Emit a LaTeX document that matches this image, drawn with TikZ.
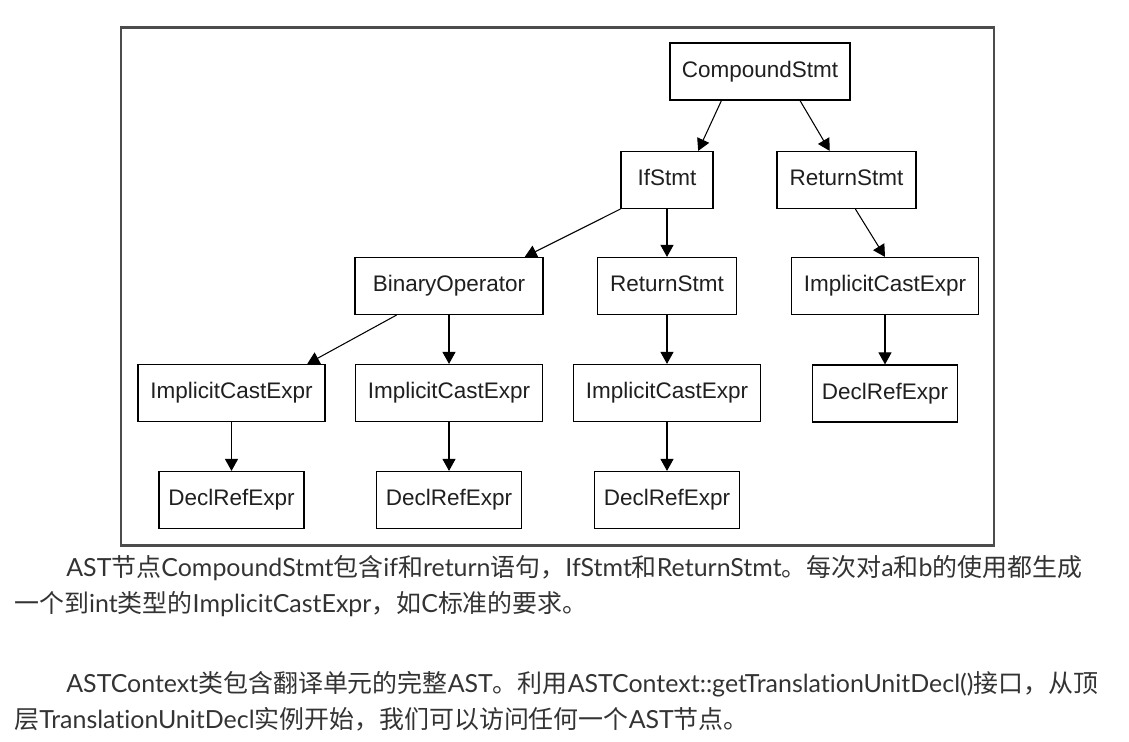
\documentclass[tikz,border=0pt]{standalone}
\usepackage{fontspec}
\usepackage{tikz}
\usetikzlibrary{arrows.meta}
\setmainfont{Lato}[Ligatures=NoCommon]
\newfontfamily\boxfont{Liberation Sans}
\newfontfamily\cjk{Noto Sans CJK SC}
\newcommand{\zh}[1]{{\cjk #1}}

\begin{document}
\begin{tikzpicture}[x=0.02cm,y=-0.02cm,
	astbox/.style={draw,line width=0.65pt,rectangle,minimum height=1.14cm,inner xsep=0pt,
		text height=9.4pt,text depth=2.8pt,
		font=\boxfont\fontsize{12.8}{15}\selectfont,text=black!88},
	cmpd/.style={astbox,minimum width=3.6cm},
	ifst/.style={astbox,minimum width=1.84cm},
	rets/.style={astbox,minimum width=2.78cm},
	binop/.style={astbox,minimum width=3.76cm},
	impl/.style={astbox,minimum width=3.74cm},
	decl/.style={astbox,minimum width=2.9cm},
	edge/.style={draw,line width=0.6pt,-{Triangle[length=0.24cm,width=0.26cm]}},
	para/.style={anchor=base west,inner sep=0pt,text=black!80,font=\fontsize{14.2}{17}\selectfont}]
			\useasboundingbox (0,0) rectangle (1129,742);
			\draw[line width=1.5pt,black!70] (121,27.5) rectangle (994,545.5);

			\node[cmpd] (cs) at (760,71.5) {CompoundStmt};
			\node[ifst] (if) at (667,180) {IfStmt};
			\node[rets] (rt1) at (846.5,180) {ReturnStmt};

			\node[binop] (bo) at (449,286) {BinaryOperator};
			\node[rets] (rt2) at (667,286) {ReturnStmt};
			\node[impl] (ic4) at (885,286) {ImplicitCastExpr};

			\node[impl] (ic1) at (231.5,393) {ImplicitCastExpr};
			\node[impl] (ic2) at (449,393) {ImplicitCastExpr};
			\node[impl] (ic3) at (667,393) {ImplicitCastExpr};
			\node[decl] (dr4) at (885,393.5) {DeclRefExpr};

			\node[decl] (dr1) at (231.5,500) {DeclRefExpr};
			\node[decl] (dr2) at (449,500) {DeclRefExpr};
			\node[decl] (dr3) at (667,500) {DeclRefExpr};

			\path[edge] (cs.217) -- (if.43);
			\path[edge] (cs.324) -- (rt1.120);
			\path[edge] (if.south west) -- (bo.21);
			\path[edge] (if.south) -- (rt2.north);
			\path[edge] (rt1.287) -- (ic4.north);
			\path[edge] (bo.209) -- (ic1.21);
			\path[edge] (bo.south) -- (ic2.north);
			\path[edge] (rt2.south) -- (ic3.north);
			\path[edge] (ic1.south) -- (dr1.north);
			\path[edge] (ic2.south) -- (dr2.north);
			\path[edge] (ic3.south) -- (dr3.north);
			\path[edge] (ic4.south) -- (dr4.north);

			% caption text
			\node[para] (l1) at (66,577) {AST\zh{节点}CompoundStmt\zh{包含}if\zh{和}return\zh{语句，}IfStmt\zh{和}ReturnStmt\zh{。每次对}a\zh{和}b\zh{的使用都生成}};
			\node[para] (l2) at (14,613) {\zh{一个到}int\zh{类型的}ImplicitCastExpr\zh{，如}C\zh{标准的要求。}};
			\node[para] (l3) at (66,692) {ASTContext\zh{类包含翻译单元的完整}AST\zh{。利用}ASTContext::getTranslationUnitDecl()\zh{接口，从顶}};
			\node[para] (l4) at (14,728) {\zh{层}TranslationUnitDecl\zh{实例开始，我们可以访问任何一个}AST\zh{节点。}};
		\end{tikzpicture}
\end{document}
